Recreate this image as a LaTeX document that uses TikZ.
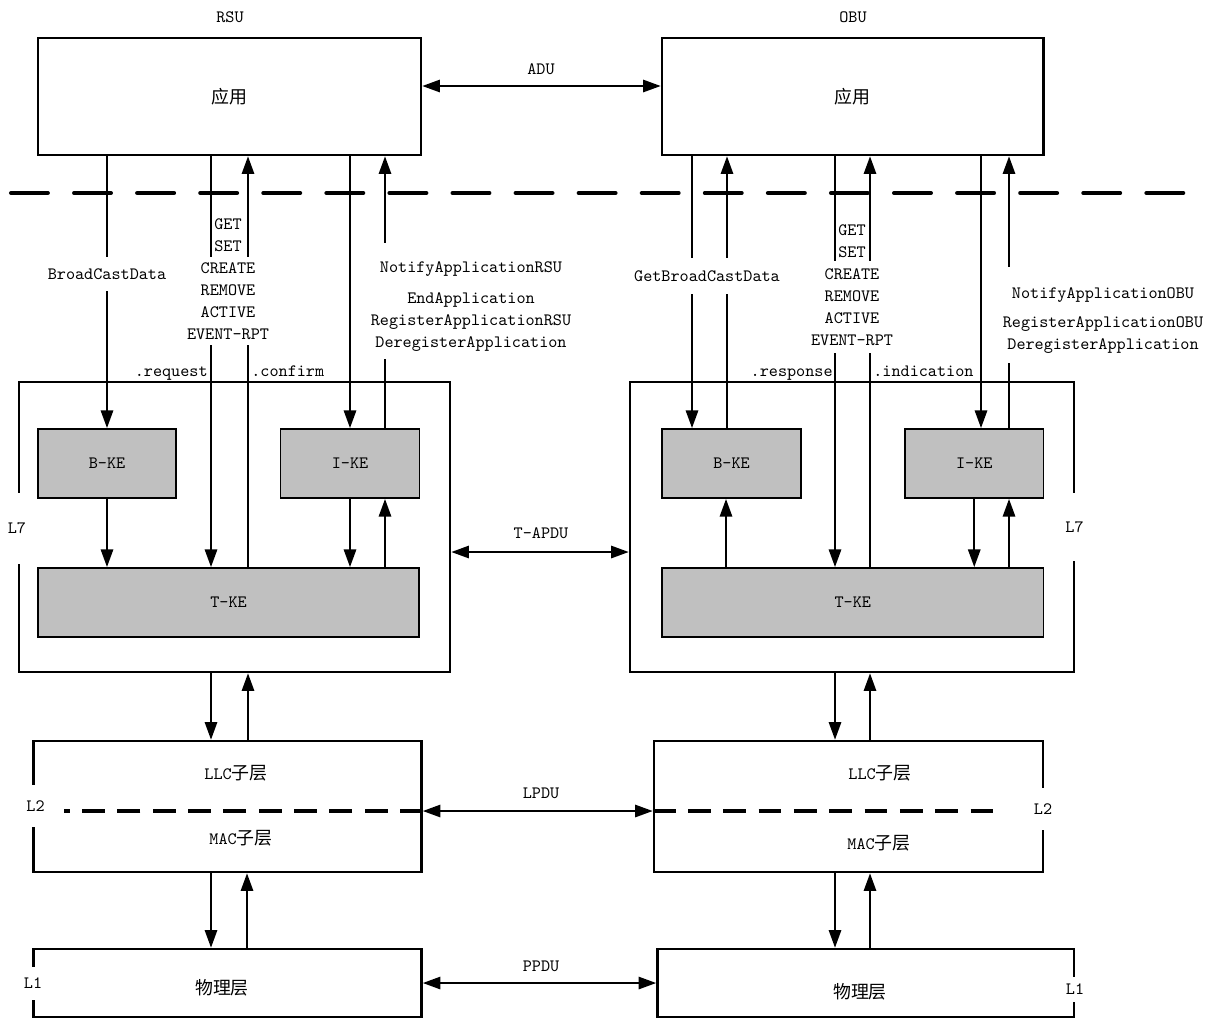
\documentclass[tikz,border=0pt]{standalone}
\usepackage{fontspec}
\newfontfamily\cjk{Noto Sans CJK SC}
\usepackage{tikz}
\usetikzlibrary{arrows.meta,calc}
\definecolor{kegray}{RGB}{192,192,192}
\newcommand{\dfont}{\ttfamily\fontsize{9.87}{12.5}\selectfont}
\newcommand{\zh}[1]{{\cjk\fontsize{10.2}{12.5}\selectfont #1}}

\begin{document}
\begin{tikzpicture}[x=0.02cm, y=-0.02cm, every node/.style={font=\dfont, inner sep=0pt},
  wxh/.style 2 args={minimum width=#1*0.02cm, minimum height=#2*0.02cm},
  box/.style={draw, line width=1.5pt},
  kebox/.style={draw, line width=1.1pt, fill=kegray},
  sidetag/.style={fill=white, inner xsep=1pt},
  wire/.style={line width=1.1pt},
  arr/.style={wire, -{Triangle[length=10pt,width=7pt]}},
  biarr/.style={wire, {Triangle[length=10pt,width=7pt]}-{Triangle[length=10pt,width=7pt]}}]
\useasboundingbox (0,0) rectangle (1209,1019);

% application boxes
\node (rsu) at (230,17) {RSU};
\node (obu) at (853,17) {OBU};
\node[box, wxh={383}{117}] (rapp) at (229.5,96.5) {\zh{应用}};
\node[box, wxh={381.5}{117}] (oapp) at (852.75,96.5) {\zh{应用}};
\node (adu) at (541,69) {ADU};
\draw[biarr] (rapp.east |- 0,86) -- (oapp.west |- 0,86);

\draw[line width=2.3pt, line cap=round, dash pattern=on 21pt off 14.9pt] (11,193) -- (1190,193);

% L7 boxes
\node[box, wxh={431}{290}] (rl7) at (234.5,527) {};
\node[box, wxh={444}{290}] (ol7) at (852,527) {};
\node[sidetag, wxh={10}{71}] (rl7lbl) at (17,528) {L7};
\node[sidetag, wxh={10}{68}] (ol7lbl) at (1074.5,527) {L7};
\node (tapdu) at (541,533) {T-APDU};
\draw[biarr] (rl7.east |- 0,552) -- (ol7.west |- 0,552);

\node[kebox, wxh={138}{69}] (rbke) at (107,463.5) {B-KE};
\node[kebox, wxh={139}{69}] (rike) at (350,463.5) {I-KE};
\node[kebox, wxh={381}{69}] (rtke) at (228.5,602.5) {T-KE};
\node[kebox, wxh={139}{69}] (obke) at (731.5,463.5) {B-KE};
\node[kebox, wxh={138.5}{69}] (oike) at (974.25,463.5) {I-KE};
\node[kebox, wxh={381.5}{69}] (otke) at (852.75,602.5) {T-KE};

% primitive labels, RSU side
\node[wxh={10}{34}] (rbcd) at (107,274) {BroadCastData};
\node[align=center] (rgs) at (228,235.5) {GET\\SET};
\node[align=center, wxh={10}{88}] (rcmd) at (228,301) {CREATE\\REMOVE\\ACTIVE\\EVENT-RPT};
\node[wxh={10}{52}] (rnot) at (471,269) {NotifyApplicationRSU};
\node[align=center, wxh={10}{74}] (rreg) at (471,322) {EndApplication\\RegisterApplicationRSU\\DeregisterApplication};
\node[anchor=base east] (rreq) at (208,376) {.request};
\node[anchor=base west] (rcnf) at (251,376) {.confirm};

% primitive labels, OBU side
\node[wxh={10}{36}] (ogbc) at (707,276) {GetBroadCastData};
\node[align=center] (ogs) at (852,241.5) {GET\\SET};
\node[align=center, wxh={10}{92}] (ocmd) at (852,307) {CREATE\\REMOVE\\ACTIVE\\EVENT-RPT};
\node[wxh={10}{56}] (onot) at (1103,295) {NotifyApplicationOBU};
\node[align=center, wxh={10}{55}] (oreg) at (1103,335.5) {RegisterApplicationOBU\\DeregisterApplication};
\node[anchor=base east] (orsp) at (833,376) {.response};
\node[anchor=base west] (oind) at (873,376) {.indication};

% RSU connectors
\draw[wire] (rapp.south -| rbcd) -- (rbcd.north);
\draw[arr] (rbcd.south) -- (rbke.north);
\draw[wire] (rapp.south -| 211,0) -- (rcmd.north -| 211,0);
\draw[arr] (rcmd.south -| 211,0) -- (rtke.north -| 211,0);
\draw[wire] (rtke.north -| 248,0) -- (rcmd.south -| 248,0);
\draw[arr] (rcmd.north -| 248,0) -- (rapp.south -| 248,0);
\draw[arr] (rapp.south -| rike) -- (rike.north);
\draw[wire] (rike.north -| 385,0) -- (rreg.south -| 385,0);
\draw[arr] (rnot.north -| 385,0) -- (rapp.south -| 385,0);
\draw[arr] (rbke.south) -- (rtke.north -| rbke.south);
\draw[arr] (rike.south) -- (rtke.north -| rike.south);
\draw[arr] (rtke.north -| 385,0) -- (rike.south -| 385,0);

% OBU connectors
\draw[wire] (oapp.south -| 692,0) -- (ogbc.north -| 692,0);
\draw[arr] (ogbc.south -| 692,0) -- (obke.north -| 692,0);
\draw[wire] (obke.north -| 727,0) -- (ogbc.south -| 727,0);
\draw[arr] (ogbc.north -| 727,0) -- (oapp.south -| 727,0);
\draw[wire] (oapp.south -| 835,0) -- (ocmd.north -| 835,0);
\draw[arr] (ocmd.south -| 835,0) -- (otke.north -| 835,0);
\draw[wire] (otke.north -| 870,0) -- (ocmd.south -| 870,0);
\draw[arr] (ocmd.north -| 870,0) -- (oapp.south -| 870,0);
\draw[arr] (oapp.south -| 981,0) -- (oike.north -| 981,0);
\draw[wire] (oike.north -| 1009,0) -- (oreg.south -| 1009,0);
\draw[arr] (onot.north -| 1009,0) -- (oapp.south -| 1009,0);
\draw[arr] (otke.north -| 726,0) -- (obke.south -| 726,0);
\draw[arr] (oike.south) -- (otke.north -| oike.south);
\draw[arr] (otke.north -| 1009,0) -- (oike.south -| 1009,0);

% L2 boxes
\node[box, wxh={388}{131}] (rl2) at (227.5,806.5) {};
\node[box, wxh={389}{131}] (ol2) at (848.5,806.5) {};
\node[sidetag, wxh={10}{42}] (rl2lbl) at (35.5,806) {L2};
\node[sidetag, wxh={10}{42}] (ol2lbl) at (1043,809) {L2};
\node (rllc) at (236,773) {LLC\zh{子层}};
\node (rmac) at (241,838) {MAC\zh{子层}};
\node (ollc) at (880,773) {LLC\zh{子层}};
\node (omac) at (879,843) {MAC\zh{子层}};
\draw[line width=1.8pt, dash pattern=on 13pt off 7.1pt] (rl2.east |- 0,811) -- (64,811);
\draw[line width=1.8pt, dash pattern=on 13pt off 7.1pt] (ol2.west |- 0,811) -- (997,811);
\node (lpdu) at (541,793) {LPDU};
\draw[biarr] (rl2.east |- 0,811) -- (ol2.west |- 0,811);

% L1 boxes
\node[box, wxh={388}{68}] (rl1) at (227.5,983) {};
\node[box, wxh={416.5}{68}] (ol1) at (865.75,983) {};
\node[sidetag, wxh={10}{33}] (rl1lbl) at (33,983.5) {L1};
\node[sidetag, wxh={10}{25}] (ol1lbl) at (1075,989.5) {L1};
\node (rphy) at (222,988) {\zh{物理层}};
\node (ophy) at (860,992) {\zh{物理层}};
\node (ppdu) at (541,966) {PPDU};
\draw[biarr] (rl1.east |- 0,983) -- (ol1.west |- 0,983);

% layer to layer
\draw[arr] (rl7.south -| 211,0) -- (rl2.north -| 211,0);
\draw[arr] (rl2.north -| 248,0) -- (rl7.south -| 248,0);
\draw[arr] (rl2.south -| 211,0) -- (rl1.north -| 211,0);
\draw[arr] (rl1.north -| 247,0) -- (rl2.south -| 247,0);
\draw[arr] (ol7.south -| 835,0) -- (ol2.north -| 835,0);
\draw[arr] (ol2.north -| 870,0) -- (ol7.south -| 870,0);
\draw[arr] (ol2.south -| 835,0) -- (ol1.north -| 835,0);
\draw[arr] (ol1.north -| 870,0) -- (ol2.south -| 870,0);
\end{tikzpicture}
\end{document}
